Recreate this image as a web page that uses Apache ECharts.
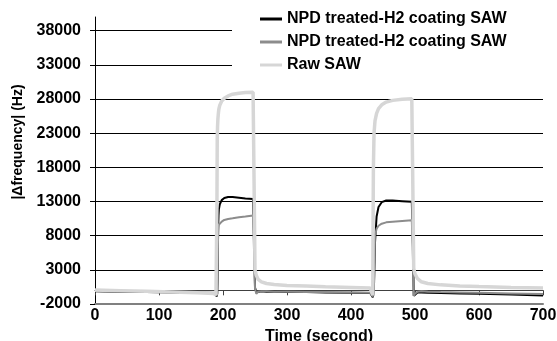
<!DOCTYPE html>
<html>
<head>
<meta charset="utf-8">
<script src="https://cdn.jsdelivr.net/npm/echarts@6/dist/echarts.min.js"></script>
<style>html,body{margin:0;padding:0;background:#fff}#c{width:557px;height:341px}</style>
</head>
<body>
<div id="c"></div>
<script>
// Time (second)
const time = [0, 40, 80, 120, 160, 185, 189, 190, 190.5, 191, 191.5, 192, 192.5, 193, 193.5, 195, 198, 202, 208, 215, 225, 235, 247, 248, 249, 250, 252, 255, 260, 268, 280, 300, 330, 360, 400, 430, 433, 434, 434.5, 435, 436, 437.5, 440, 443, 448, 455, 465, 480, 495, 496.5, 497, 498, 500, 504, 510, 520, 540, 570, 600, 650, 700];
// |Δfrequency| (Hz)
const npdBlack = [-150, -200, -250, -300, -350, -400, -500, -900, -900, -500, 1500, 6000, 9500, 11000, 11800, 12600, 13200, 13500, 13650, 13650, 13550, 13450, 13350, 13300, 5000, 400, -300, -100, -150, -200, -200, -250, -250, -300, -350, -400, -450, -1000, -1000, -600, 1000, 7000, 10800, 12200, 12900, 13150, 13150, 13050, 12950, 12900, 6000, -800, -600, -300, -300, -350, -400, -450, -500, -600, -750];
const npdGray = [-100, -150, -200, -250, -300, -350, -500, -800, -800, -400, 1500, 6500, 8600, 9300, 9600, 9850, 10050, 10300, 10450, 10550, 10700, 10800, 10950, 10950, 4000, 300, -500, -200, -150, -150, -200, -200, -250, -250, -300, -350, -400, -900, -900, -500, 1500, 8000, 9000, 9450, 9750, 9950, 10050, 10150, 10250, 10250, 4000, -800, -500, -200, -150, -200, -250, -300, -350, -450, -550];
const rawSaw = [50, -50, -150, -250, -350, -450, -650, -700, 12000, 22000, 24000, 25000, 25600, 26100, 26500, 27100, 27700, 28100, 28450, 28700, 28850, 28950, 29000, 29000, 12000, 3000, 2200, 1600, 1250, 1000, 850, 720, 620, 520, 420, 330, 200, -700, 10000, 18000, 23000, 24800, 25900, 26600, 27150, 27550, 27800, 27950, 28050, 28050, 12000, 3200, 2400, 1700, 1250, 1000, 800, 650, 550, 420, 330];
const seriesNames = ['NPD treated-H2 coating SAW', 'NPD treated-H2 coating SAW', 'Raw SAW'];
const yTicks = [-2000, 3000, 8000, 13000, 18000, 23000, 28000, 33000, 38000];
const xTicks = [0, 100, 200, 300, 400, 500, 600, 700];

const FONT = "'Liberation Sans', Arial, sans-serif";
const pairs = vals => time.map((t, i) => [t, vals[i]]);
const chart = echarts.init(document.getElementById('c'), null, {renderer: 'canvas'});
const mk = (id, vals, color, width) => ({
  id: id, name: id, type: 'line', data: pairs(vals), color: color,
  symbol: 'none', showSymbol: false, smooth: false, animation: false,
  lineStyle: {color: color, width: width}, itemStyle: {color: color}
});
chart.setOption({
  animation: false,
  grid: {left: 95, right: 14, top: 17, bottom: 37, containLabel: false, outerBoundsMode: 'none'},
  legend: {
    left: 232, top: 3, orient: 'vertical',
    padding: [8, 40, 8, 28], backgroundColor: '#fff',
    itemWidth: 22, itemHeight: 3, itemGap: 7, icon: 'rect',
    data: ['s1', 's2', 's3'],
    formatter: n => seriesNames[+n.slice(1) - 1],
    textStyle: {fontFamily: FONT, fontWeight: 'bold', fontSize: 16, lineHeight: 16, color: '#000'}
  },
  xAxis: [{
    type: 'value', min: 0, max: 700, interval: 100, position: 'bottom',
    axisLine: {show: true, onZero: false, lineStyle: {color: '#808080', width: 2}},
    axisTick: {show: false}, splitLine: {show: false},
    axisLabel: {margin: 4, fontFamily: FONT, fontWeight: 'bold', fontSize: 16, color: '#000',
      customValues: xTicks, formatter: v => String(v)},
    name: 'Time (second)', nameLocation: 'middle', nameGap: 18,
    nameTextStyle: {fontFamily: FONT, fontWeight: 'bold', fontSize: 16, color: '#000'}
  }, {
    type: 'value', min: 0, max: 700, interval: 100, position: 'bottom',
    axisLine: {show: true, onZero: true, lineStyle: {color: '#404040', width: 1}},
    axisTick: {show: true, length: 5, lineStyle: {color: '#404040', width: 1}},
    axisLabel: {show: false}, splitLine: {show: false}
  }],
  yAxis: {
    type: 'value', min: -2000, max: 40000, interval: 5000,
    axisLine: {show: true, onZero: false, lineStyle: {color: '#000', width: 1}},
    axisTick: {show: true, length: 5, lineStyle: {color: '#000'}, customValues: yTicks},
    axisLabel: {margin: 14, fontFamily: FONT, fontWeight: 'bold', fontSize: 16, color: '#000',
      customValues: yTicks, formatter: v => String(v)},
    splitLine: {show: true, showMinLine: false, showMaxLine: true, lineStyle: {color: '#000', width: 1}},
    name: '|Δfrequency| (Hz)', nameLocation: 'middle', nameGap: 66,
    nameTextStyle: {fontFamily: FONT, fontWeight: 'bold', fontSize: 14, color: '#000', padding: [0, 0, 0, 37]}
  },
  series: [
    mk('s1', npdBlack, '#000000', 2),
    mk('s2', npdGray, '#8c8c8c', 2),
    mk('s3', rawSaw, '#d6d6d6', 3.5)
  ]
});
</script>
</body>
</html>
